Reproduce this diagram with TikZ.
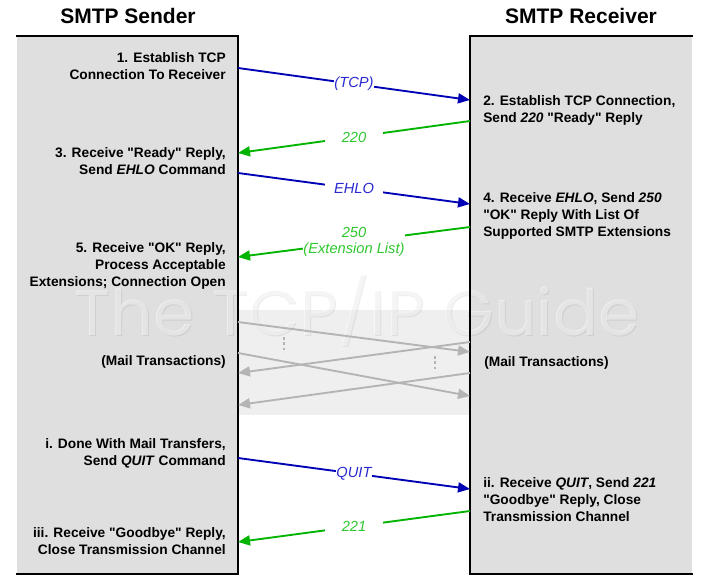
\documentclass[tikz,border=0pt]{standalone}
\usepackage{fontspec}
\setmainfont{Liberation Sans}
\newfontfamily\wmfont{Poppins}
\usetikzlibrary{arrows.meta}
\newcommand\dq{\XeTeXglyph\XeTeXcharglyph"22\relax}
\definecolor{boxgray}{HTML}{DFDFDF}
\definecolor{bandgray}{HTML}{EFEFEF}
\definecolor{cmdblue}{HTML}{0000B4}
\definecolor{cmdbluetext}{HTML}{2A2AD0}
\definecolor{replygreen}{HTML}{00B400}
\definecolor{replygreentext}{HTML}{30C830}
\definecolor{txgray}{HTML}{B4B4B4}
\begin{document}
\begin{tikzpicture}[x=0.75pt,y=-0.75pt,
  lefttext/.style={anchor=east, align=right, inner sep=0pt, font=\bfseries\fontsize{10.3}{12.75}\selectfont},
  righttext/.style={anchor=west, align=left, inner sep=0pt, font=\bfseries\fontsize{10.3}{12.75}\selectfont},
  header/.style={inner sep=0pt, font=\bfseries\fontsize{15.75}{18}\selectfont},
  border/.style={line width=2.2pt, line cap=rect},
  tip/.style={-{Triangle[length=9pt,width=7.5pt]}},
  cmd/.style={tip, draw=cmdblue, line width=1.4pt},
  reply/.style={tip, draw=replygreen, line width=1.4pt},
  mail/.style={-{Triangle[length=9pt,width=7.5pt]}, draw=txgray, line width=1.4pt},
  dots/.style={draw=txgray, line width=1.5pt, dash pattern=on 2pt off 2pt},
  lbl/.style={midway, fill=white, inner sep=0pt, font=\itshape\fontsize{11}{12}\selectfont},
  cmdlbl/.style={lbl, text=cmdbluetext},
  replbl/.style={lbl, text=replygreentext},
]
\useasboundingbox (0,0) rectangle (705,584);
\fill[white] (0,0) rectangle (705,584);

% boxes and band
\fill[boxgray] (17,36) rectangle (238,574);
\fill[boxgray] (470,36) rectangle (692,574);
\fill[bandgray] (238,310) rectangle (470,415);

% watermark
\node[anchor=base, text=black, opacity=0.07, font=\wmfont\fontsize{48}{48}\selectfont, xscale=1.04] (wmshadow) at (358,336) {The TCP/IP Guide};
\node[anchor=base, text=white, opacity=0.45, font=\wmfont\fontsize{48}{48}\selectfont, xscale=1.04] (wm) at (357,335) {The TCP/IP Guide};

% borders
\draw[border] (17,36) -- (238,36) -- (238,574) -- (17,574);
\draw[border] (692,36) -- (470,36) -- (470,574) -- (692,574);

% headers
\node[header] (hs) at (128,16) {SMTP Sender};
\node[header] (hr) at (581,16) {SMTP Receiver};

% end points on the lifelines
\coordinate (s1) at (238,68);   \coordinate (r1) at (470,100);
\coordinate (r2) at (470,121);  \coordinate (s2) at (238,153);
\coordinate (s3) at (238,173);  \coordinate (r3) at (470,204);
\coordinate (r4) at (470,227);  \coordinate (s4) at (238,257);
\coordinate (s5) at (238,458);  \coordinate (r5) at (470,489);
\coordinate (r6) at (470,511);  \coordinate (s6) at (238,542);

\coordinate (ma) at (238,322);  \coordinate (mb) at (470,352);
\coordinate (mc) at (470,342);  \coordinate (md) at (238,373);
\coordinate (me) at (238,353);  \coordinate (mf) at (470,396);
\coordinate (mg) at (470,373);  \coordinate (mh) at (238,405);
\coordinate (d1a) at (284,337); \coordinate (d1b) at (284,353);
\coordinate (d2a) at (435,356); \coordinate (d2b) at (435,372);

% mail transaction arrows
\draw[mail] (ma) -- (mb);
\draw[mail] (mc) -- (md);
\draw[mail] (me) -- (mf);
\draw[mail] (mg) -- (mh);
\draw[dots] (d1a) -- (d1b);
\draw[dots] (d2a) -- (d2b);

% message arrows
\draw[cmd] (s1) -- node[cmdlbl] (l1) {(TCP)} (r1);
\draw[reply] (r2) -- node[replbl, minimum width=43.5pt] (l2) {220} (s2);
\draw[cmd] (s3) -- node[cmdlbl, minimum width=43.5pt] (l3) {EHLO} (r3);
\draw[reply] (r4) -- node[replbl, align=center, font=\itshape\fontsize{11}{12}\selectfont] (l4) {250\\(Extension List)} (s4);
\draw[cmd] (s5) -- node[cmdlbl] (l5) {QUIT} (r5);
\draw[reply] (r6) -- node[replbl, minimum width=43.5pt] (l6) {221} (s6);

% sender texts
\node[lefttext] (t1) at (226,66) {1. Establish TCP\\Connection To Receiver};
\node[lefttext] (t3) at (226,161) {3. Receive \dq Ready\dq{} Reply,\\Send \textit{EHLO} Command};
\node[lefttext] (t5) at (226,266) {5. Receive \dq OK\dq{} Reply,\\Process Acceptable\\Extensions; Connection Open};
\node[lefttext] (tm) at (226,362) {(Mail Transactions)};
\node[lefttext] (ti) at (226,453.5) {i. Done With Mail Transfers,\\Send \textit{QUIT} Command};
\node[lefttext] (tiii) at (226,541) {iii. Receive \dq Goodbye\dq{} Reply,\\Close Transmission Channel};

% receiver texts
\node[righttext] (t2) at (483,110) {2. Establish TCP Connection,\\Send \textit{220} \dq Ready\dq{} Reply};
\node[righttext] (t4) at (483,216) {4. Receive \textit{EHLO}, Send \textit{250}\\\dq OK\dq{} Reply With List Of\\Supported SMTP Extensions};
\node[righttext] (tm2) at (484,363) {(Mail Transactions)};
\node[righttext] (tii) at (483,500) {ii. Receive \textit{QUIT}, Send \textit{221}\\\dq Goodbye\dq{} Reply, Close\\Transmission Channel};
\end{tikzpicture}
\end{document}
